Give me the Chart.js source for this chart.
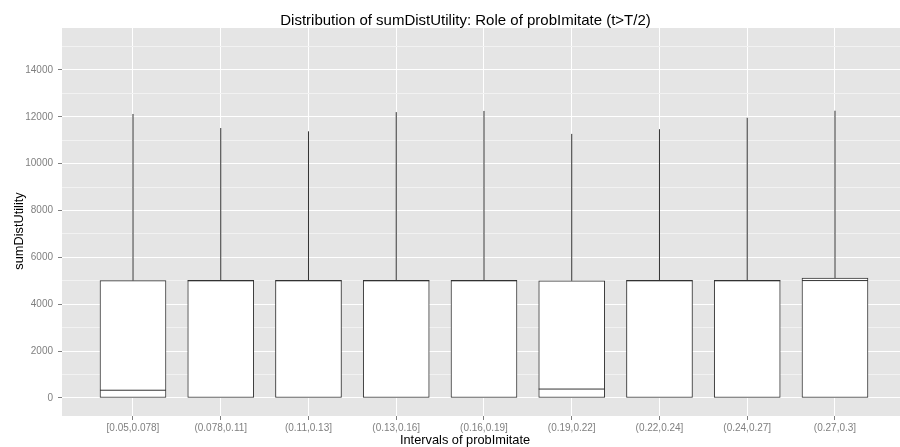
<!DOCTYPE html>
<html>
<head>
<meta charset="utf-8">
<script src="https://cdn.jsdelivr.net/npm/chart.js@4"></script>
<style>
  body { margin: 0; background: #fff; }
  canvas { display: block; }
</style>
</head>
<body>
<canvas id="grafico" width="900" height="447"></canvas>
<script>
const categorias = ["[0.05,0.078]", "(0.078,0.11]", "(0.11,0.13]", "(0.13,0.16]", "(0.16,0.19]",
                    "(0.19,0.22]", "(0.22,0.24]", "(0.24,0.27]", "(0.27,0.3]"];
const minimos  = [0, 0, 0, 0, 0, 0, 0, 0, 0];
const q1       = [0, 0, 0, 0, 0, 0, 0, 0, 0];
const medianas = [330, 5000, 5000, 5000, 5000, 380, 5000, 5000, 5010];
const q3       = [5010, 5020, 5020, 5020, 5020, 5000, 5020, 5020, 5120];
const maximos  = [12120, 11520, 11380, 12200, 12250, 11270, 11470, 11960, 12260];
const yTicks   = [0, 2000, 4000, 6000, 8000, 10000, 12000, 14000];
const yMinor   = [1000, 3000, 5000, 7000, 9000, 11000, 13000, 15000];

const titulo = "Distribution of sumDistUtility: Role of probImitate (t>T/2)";
const tituloX = "Intervals of probImitate";
const tituloY = "sumDistUtility";

const FUENTE = "'Liberation Sans', Arial, sans-serif";
const GRIS_TEXTO = "#7f7f7f";
const LINEA = "#333333";

// fondo gris del panel
const fondoPanel = {
  id: "fondoPanel",
  beforeDraw(chart) {
    const { ctx, chartArea: a } = chart;
    ctx.save();
    ctx.fillStyle = "#e5e5e5";
    ctx.fillRect(a.left, a.top, a.right - a.left, a.bottom - a.top);
    ctx.restore();
  }
};

// bigotes y medianas
const bigotes = {
  id: "bigotes",
  afterDatasetsDraw(chart) {
    const { ctx, scales } = chart;
    const meta = chart.getDatasetMeta(0);
    ctx.save();
    ctx.strokeStyle = LINEA;
    ctx.lineWidth = 1;
    meta.data.forEach((bar, i) => {
      const x = scales.x.getPixelForValue(i);
      ctx.beginPath();
      ctx.moveTo(x, scales.y.getPixelForValue(q3[i]));
      ctx.lineTo(x, scales.y.getPixelForValue(maximos[i]));
      ctx.moveTo(x, scales.y.getPixelForValue(minimos[i]));
      ctx.lineTo(x, scales.y.getPixelForValue(q1[i]));
      const ym = scales.y.getPixelForValue(medianas[i]);
      ctx.moveTo(bar.x - bar.width / 2, ym);
      ctx.lineTo(bar.x + bar.width / 2, ym);
      ctx.stroke();
    });
    ctx.restore();
  }
};

// títulos
const textos = {
  id: "textos",
  afterDraw(chart) {
    const ctx = chart.ctx;
    ctx.save();
    ctx.fillStyle = "#000";
    ctx.textAlign = "center";
    ctx.textBaseline = "alphabetic";
    ctx.font = "15px " + FUENTE;
    ctx.fillText(titulo, 465.5, 25);
    ctx.font = "12.8px " + FUENTE;
    ctx.fillText(tituloX, 465, 444);
    ctx.translate(23, 231);
    ctx.rotate(-Math.PI / 2);
    ctx.fillText(tituloY, 0, 0);
    ctx.restore();
  }
};

const ctx = document.getElementById("grafico").getContext("2d");
new Chart(ctx, {
  type: "bar",
  data: {
    datasets: [{
      data: categorias.map((c, i) => ({ x: i, y: [q1[i], q3[i]] })),
      backgroundColor: "#ffffff",
      borderColor: LINEA,
      borderWidth: 1,
      borderSkipped: false,
      barThickness: 66
    }]
  },
  options: {
    responsive: false,
    animation: false,
    layout: { padding: { top: 28, left: 0, right: 0, bottom: 0 } },
    plugins: { legend: { display: false }, tooltip: { enabled: false }, title: { display: false } },
    scales: {
      x: {
        type: "linear",
        min: -0.809,
        max: 8.741,
        offset: false,
        afterBuildTicks: s => { s.ticks = categorias.map((c, i) => ({ value: i })); },
        afterFit: s => { s.height = 31; },
        ticks: {
          autoSkip: false, maxRotation: 0, padding: 2,
          color: GRIS_TEXTO, font: { family: FUENTE, size: 10 },
          callback: v => categorias[v]
        },
        grid: { offset: false, color: "#ffffff", lineWidth: 1, tickColor: GRIS_TEXTO, tickLength: 4 },
        border: { display: false }
      },
      y: {
        type: "linear",
        min: -770,
        max: 15790,
        afterBuildTicks: s => {
          s.ticks = yTicks.concat(yMinor).sort((a, b) => a - b).map(v => ({ value: v }));
        },
        afterFit: s => { s.width = 62; },
        ticks: {
          autoSkip: false, padding: 5,
          color: GRIS_TEXTO, font: { family: FUENTE, size: 10 },
          callback: v => yTicks.includes(v) ? String(v) : ""
        },
        grid: {
          color: c => (c.tick && yTicks.includes(c.tick.value)) ? "#ffffff" : "#f2f2f2",
          tickColor: c => (c.tick && yTicks.includes(c.tick.value)) ? GRIS_TEXTO : "rgba(0,0,0,0)",
          lineWidth: 1,
          tickLength: 4
        },
        border: { display: false }
      }
    }
  },
  plugins: [fondoPanel, bigotes, textos]
});
</script>
</body>
</html>
